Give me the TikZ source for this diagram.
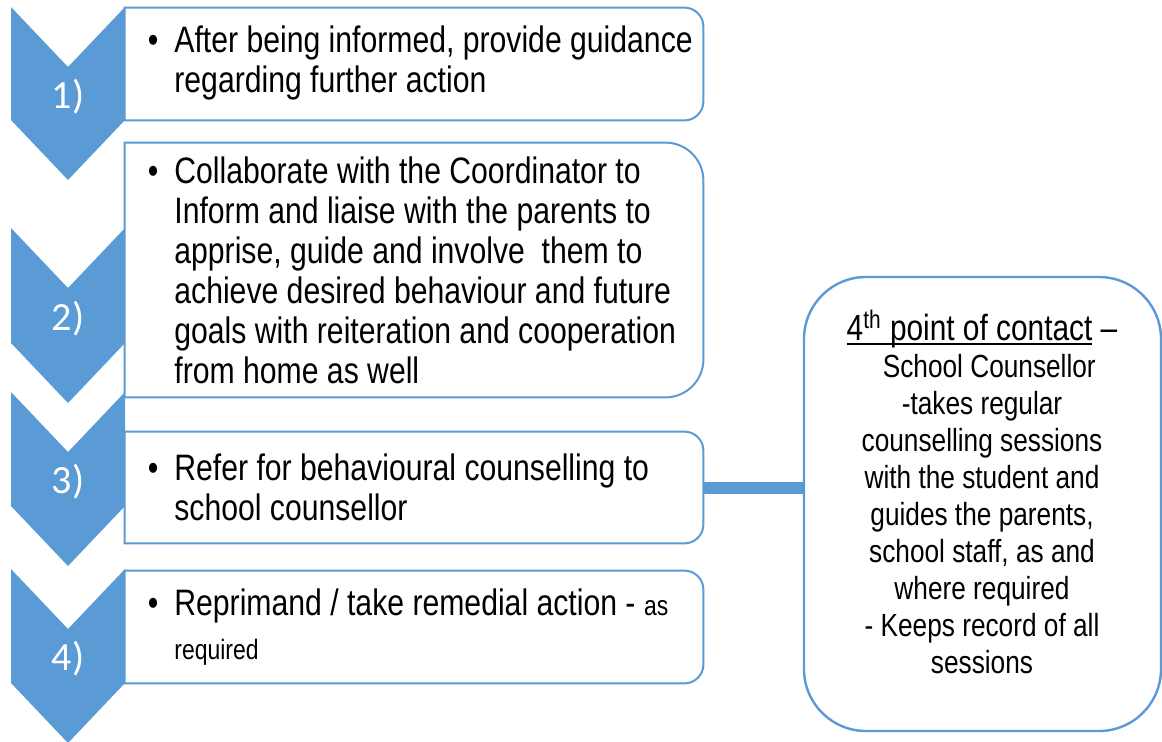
\documentclass[tikz,border=0pt]{standalone}
\usepackage{fontspec}
\setmainfont{Liberation Sans}[FakeStretch=0.82]
\newfontfamily\numfont{Carlito}
\definecolor{chevblue}{HTML}{5B9BD5}
\tikzset{
  chev/.style={fill=chevblue},
  boxline/.style={draw=chevblue, line width=1pt, fill=white},
  boxarea/.style={rectangle, inner sep=0pt, minimum width=289pt},
  steptext/.style={anchor=west, inner sep=0pt, align=left, font=\fontsize{18.4}{20}\selectfont},
  numlabel/.style={text=white, inner sep=0pt, font=\numfont\fontsize{20}{24}\selectfont},
  contacttext/.style={inner sep=0pt, align=center, font=\fontsize{16}{18.5}\selectfont},
  link/.style={draw=chevblue, line width=6pt},
}
\newcommand{\roundright}[2]{%
  \path[boxline] (#1.north west) -- ([xshift=-#2]#1.north east)
    arc[start angle=90, end angle=0, radius=#2] -- ([yshift=#2]#1.south east)
    arc[start angle=0, end angle=-90, radius=#2] -- (#1.south west) -- cycle;}
\newcommand{\bul}{\llap{\textbullet\hspace{8pt}}}
\newcommand{\ulcontact}[1]{\setbox0\hbox{#1}\rlap{\rule[-2.2pt]{\wd0}{0.9pt}}\box0\relax}
\begin{document}
\begin{tikzpicture}[x=0.5pt, y=-0.5pt]
\useasboundingbox (0,0) rectangle (1162,741);

% chevrons with numbers
\foreach \ya/\yb [count=\i] in {7/120, 228/343, 392/506, 569/683} {
  \fill[chev] (11,\ya) -- (68,\ya+60) -- (125,\ya) -- (125,\yb) -- (68,\yb+60) -- (11,\yb) -- cycle;
  \node[numlabel] (n\i) at (68,{(\ya+60+\yb)/2+3}) {\i)};
}

% step boxes
\node[boxarea, minimum height=56pt] (b1) at (414,64) {};
\node[boxarea, minimum height=127pt] (b2) at (414,270) {};
\node[boxarea, minimum height=55.5pt] (b3) at (414,487.5) {};
\node[boxarea, minimum height=56pt] (b4) at (414,627) {};

% counsellor box
\node[draw=chevblue, line width=1.2pt, rounded corners=31pt, minimum width=178.5pt,
  minimum height=227pt, inner sep=0pt] (contact) at (982.5,504) {};
\draw[link] (b3.east) -- (b3.east -| contact.west);

\roundright{b1}{9.5pt}
\roundright{b2}{19pt}
\roundright{b3}{9.5pt}
\roundright{b4}{9.5pt}

\node[steptext] (t1) at (174,63) {\bul After being informed, provide guidance\\regarding further action};
\node[steptext] (t2) at (174,270) {\bul Collaborate with the Coordinator to\\Inform and liaise with the parents to\\apprise, guide and involve\ \ them to\\achieve desired behaviour and future\\goals with reiteration and cooperation\\from home as well};
\node[steptext] (t3) at (174,487.5) {\bul Refer for behavioural counselling to\\school counsellor};
\node[steptext] (t4) at (174,627) {\bul Reprimand / take remedial action - {\fontsize{14}{16}\selectfont as}\\[2pt]{\fontsize{14}{16}\selectfont required}};

\node[contacttext] (ct) at (982,492) {{\fontsize{18.2}{20}\selectfont\ulcontact{4\textsuperscript{th} point of contact} –}\\\ \ School Counsellor\\-takes regular\\counselling sessions\\with the student and\\guides the parents,\\school staff, as and\\where required\\- Keeps record of all\\sessions};
\end{tikzpicture}
\end{document}
